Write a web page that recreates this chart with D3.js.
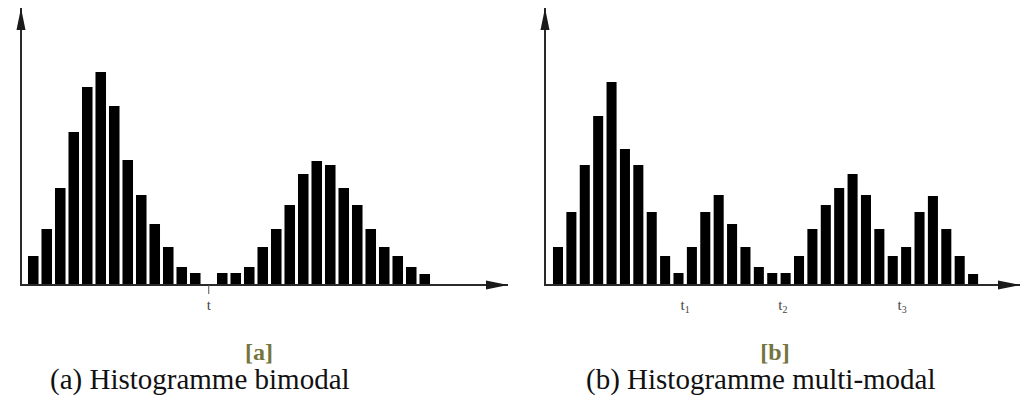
<!DOCTYPE html>
<html>
<head>
<meta charset="utf-8">
<script src="https://cdn.jsdelivr.net/npm/d3@7"></script>
<style>
  body { margin: 0; background: #fff; }
  svg { display: block; }
</style>
</head>
<body>
<svg id="chart" width="1021" height="397"></svg>
<script>
// bin counts
const bimodalCounts = [29, 56, 97, 153, 198, 213, 179, 125, 90, 61, 38, 18, 12, 0, 12, 12, 18, 38, 56, 80, 111, 124, 120, 97, 80, 56, 38, 29, 18, 11];
const multimodalCounts = [38, 73, 120, 169, 203, 136, 120, 73, 29, 12, 38, 73, 90, 61, 38, 18, 12, 12, 29, 56, 80, 97, 111, 90, 56, 29, 38, 73, 89, 56, 29, 11];

// thresholds, in bin units (bin centre = integer)
const bimodalThresholds = [13];
const multimodalThresholds = [9.5, 16.8, 25.7];
const bimodalTickLabels = [["t", ""]];
const multimodalTickLabels = [["t", "1"], ["t", "2"], ["t", "3"]];

const captions = ["(a) Histogramme bimodal", "(b) Histogramme multi-modal"];
const panelTags = ["[a]", "[b]"];

const svg = d3.select("#chart");

const defs = svg.append("defs");
defs.append("marker")
    .attr("id", "arrow")
    .attr("viewBox", "0 0 22 12")
    .attr("refX", 22)
    .attr("refY", 6)
    .attr("markerWidth", 22)
    .attr("markerHeight", 12)
    .attr("markerUnits", "userSpaceOnUse")
    .attr("orient", "auto")
    .append("path")
    .attr("d", "M0,1.5 L22,6 L0,10.5 Z")
    .attr("fill", "#1a1a1a");

const baseline = 285;

const panels = [
    { counts: bimodalCounts, thresholds: bimodalThresholds, labels: bimodalTickLabels,
      axisX: 21, xEnd: 508, barStart: 26.5, step: 13.5, pad: 0.22, tick: true,
      caption: captions[0], captionX: 50, tag: panelTags[0], tagX: 259 },
    { counts: multimodalCounts, thresholds: multimodalThresholds, labels: multimodalTickLabels,
      axisX: 545, xEnd: 1020, barStart: 551.3, step: 13.39, pad: 0.25, tick: false,
      caption: captions[1], captionX: 586, tag: panelTags[1], tagX: 775 }
];

panels.forEach(p => {
    const n = p.counts.length;

    const x = d3.scaleBand()
        .domain(d3.range(n))
        .range([p.barStart, p.barStart + n * p.step])
        .paddingInner(p.pad)
        .paddingOuter(p.pad / 2);

    const y = d3.scaleLinear()
        .domain([0, 275])
        .range([baseline, 10]);

    // fractional bin position -> pixel centre
    const binPos = d3.scaleLinear()
        .domain([0, n - 1])
        .range([x(0) + x.bandwidth() / 2, x(n - 1) + x.bandwidth() / 2]);

    const g = svg.append("g");

    // bars
    g.selectAll(".bar")
        .data(p.counts)
        .enter()
        .append("rect")
        .attr("class", "bar")
        .attr("x", (d, i) => x(i))
        .attr("y", d => y(d))
        .attr("width", x.bandwidth())
        .attr("height", d => baseline - y(d))
        .attr("fill", "#000");

    // axes with arrow heads
    g.append("line")
        .attr("x1", p.axisX).attr("y1", baseline + 1)
        .attr("x2", p.axisX).attr("y2", 8)
        .attr("stroke", "#2a2a2a")
        .attr("stroke-width", 2)
        .attr("marker-end", "url(#arrow)");

    g.append("line")
        .attr("x1", p.axisX - 1).attr("y1", baseline)
        .attr("x2", p.xEnd).attr("y2", baseline)
        .attr("stroke", "#2a2a2a")
        .attr("stroke-width", 2)
        .attr("marker-end", "url(#arrow)");

    // threshold ticks and labels
    p.thresholds.forEach((t, i) => {
        const cx = binPos(t);
        if (p.tick) {
            g.append("line")
                .attr("x1", cx).attr("y1", baseline)
                .attr("x2", cx).attr("y2", baseline + 9)
                .attr("stroke", "#555")
                .attr("stroke-width", 1);
        }
        const label = g.append("text")
            .attr("x", cx)
            .attr("y", 310)
            .attr("text-anchor", "middle")
            .attr("font-family", "Liberation Serif, serif")
            .attr("font-size", 15)
            .attr("fill", "#444");
        label.append("tspan").text(p.labels[i][0]);
        if (p.labels[i][1]) {
            label.append("tspan")
                .attr("font-size", 10)
                .attr("dy", 3)
                .text(p.labels[i][1]);
        }
    });

    // small panel tag
    g.append("text")
        .attr("x", p.tagX)
        .attr("y", 360)
        .attr("text-anchor", "middle")
        .attr("font-family", "Liberation Serif, serif")
        .attr("font-weight", "bold")
        .attr("font-size", 24)
        .attr("fill", "#74743e")
        .text(p.tag);

    // caption
    g.append("text")
        .attr("x", p.captionX)
        .attr("y", 389)
        .attr("font-family", "Liberation Serif, Times New Roman, serif")
        .attr("font-size", 29)
        .attr("fill", "#111")
        .text(p.caption);
});
</script>
</body>
</html>
